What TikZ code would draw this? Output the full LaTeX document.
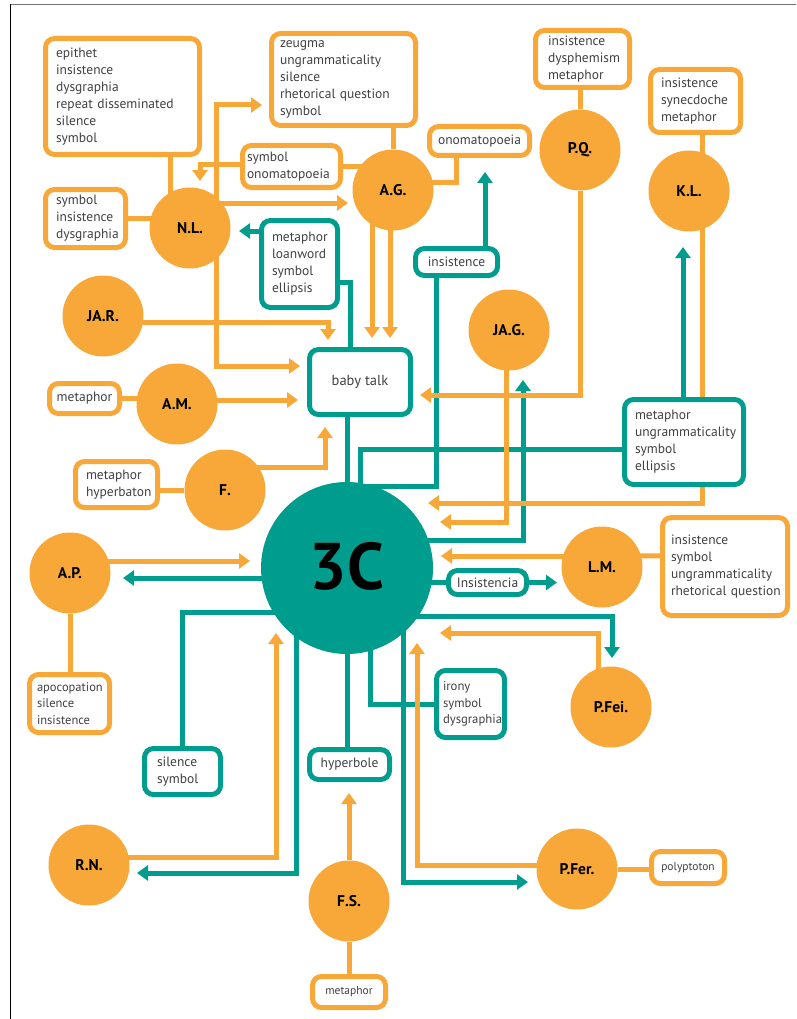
\documentclass[tikz,border=0pt]{standalone}
\usepackage{fontspec}
\setmainfont{PT Sans}
\usetikzlibrary{arrows.meta,calc}
\definecolor{orng}{RGB}{247,168,56}
\definecolor{tealc}{RGB}{0,156,141}
\definecolor{txt}{RGB}{65,64,66}
\pgfdeclarelayer{bg}
\pgfsetlayers{bg,main}
\hyphenpenalty=10000 \exhyphenpenalty=10000
\tikzset{
  person/.style={circle, fill=orng, minimum size=81pt, inner sep=0pt, font=\bfseries\fontsize{15.5}{17}\selectfont, text=black},
  hub/.style={circle, fill=tealc, minimum size=172pt, inner sep=0pt, font=\bfseries\fontsize{66}{70}\selectfont, text=black},
  boxbase/.style={fill=white, line width=5pt, rounded corners=9pt, align=left, text=txt, inner ysep=0pt, font=\fontsize{13.5}{17}\selectfont},
  obox/.style={boxbase, draw=orng},
  tbox/.style={boxbase, draw=tealc},
  single/.style={align=center, inner xsep=0pt},
  oline/.style={draw=orng, line width=5pt},
  tline/.style={draw=tealc, line width=5pt},
  oarr/.style={oline, -{Triangle[width=15pt,length=11pt]}},
  tarr/.style={tline, -{Triangle[width=15pt,length=11pt]}},
}
\begin{document}
\begin{tikzpicture}[x=1pt,y=-1pt]
\useasboundingbox (0,0) rectangle (796,1019);
\draw[black!55, line width=1.5pt] (10,4.5) -- (796,4.5);
\draw[black, line width=1.2pt] (10.5,4) -- (10.5,1019);

% people
\node[person] (NL) at (190,228) {N.L.};
\node[person] (AG) at (393,190) {A.G.};
\node[person] (PQ) at (580,150) {P.Q.};
\node[person] (KL) at (689,191) {K.L.};
\node[person] (JAR) at (103,316) {JA.R.};
\node[person] (AM) at (177,404) {A.M.};
\node[person] (F) at (225,490) {F.};
\node[person] (JAG) at (509,330) {JA.G.};
\node[hub] (C3) at (347,568) {\raisebox{5pt}{3C}};
\node[person] (AP) at (70,573) {A.P.};
\node[person] (LM) at (602,567) {L.M.};
\node[person] (PFei) at (611,707) {P.Fei.};
\node[person] (RN) at (89,865) {R.N.};
\node[person] (FS) at (349,901) {F.S.};
\node[person] (PFer) at (577,869) {P.Fer.};

% orange boxes
\node[obox, minimum width=154, minimum height=116, inner xsep=10.5pt, text width=133pt] (EPI) at (122.5,96.5) {epithet\\insistence\\dysgraphia\\repeat~disseminated\\silence\\symbol};
\node[obox, minimum width=144, minimum height=92, inner xsep=8.5pt, text width=127pt] (ZEU) at (343.5,79.5) {zeugma\\ungrammaticality\\silence\\rhetorical~question\\symbol};
\node[obox, minimum width=98, minimum height=42, inner xsep=4.5pt, text width=89pt] (SYO) at (291.5,166.5) {symbol\\onomatopoeia};
\node[obox, minimum width=80, minimum height=58, inner xsep=10.5pt, text width=59pt] (SYI) at (85.5,218.5) {symbol\\insistence\\dysgraphia};
\node[obox, single, minimum width=100, minimum height=29] (ONO) at (479.5,141) {onomatopoeia};
\node[obox, minimum width=94, minimum height=57, inner xsep=12.5pt, text width=69pt] (PQB) at (582.5,59) {insistence\\dysphemism\\metaphor};
\node[obox, minimum width=90, minimum height=63, inner xsep=10.5pt, text width=69pt] (KLB) at (695.5,101) {insistence\\synecdoche\\metaphor};
\node[obox, single, minimum width=70, minimum height=30] (MAM) at (84.5,398.5) {metaphor};
\node[obox, minimum width=82, minimum height=46, inner xsep=10.5pt, text width=61pt] (MHY) at (116.5,484.5) {metaphor\\hyperbaton};
\node[obox, minimum width=80, minimum height=58, inner xsep=7.5pt, text width=65pt, font=\fontsize{12.5}{16.7}\selectfont] (APO) at (69.5,703.5) {apocopation\\silence\\insistence};
\node[obox, minimum width=125, minimum height=98, inner xsep=8.5pt, text width=108pt] (LMB) at (725,566.5) {insistence\\symbol\\ungrammaticality\\rhetorical~question};
\node[obox, single, minimum width=73, minimum height=32, font=\fontsize{11.5}{13}\selectfont] (POL) at (688,867.5) {polyptoton};
\node[obox, single, minimum width=73, minimum height=31, font=\fontsize{11.5}{13}\selectfont] (MFS) at (349,992) {metaphor};

% teal boxes
\node[tbox, minimum width=76, minimum height=87, inner xsep=10.5pt, text width=55pt] (LOA) at (299.5,264) {metaphor\\loanword\\symbol\\ellipsis};
\node[tbox, single, minimum width=82, minimum height=27] (INS) at (456.5,262) {insistence};
\node[tbox, single, minimum width=101, minimum height=65, font=\fontsize{14.5}{16}\selectfont] (BABY) at (360,382) {baby~talk};
\node[tbox, minimum width=119, minimum height=85, inner xsep=10.5pt, text width=98pt] (MUS) at (684,442) {metaphor\\ungrammaticality\\symbol\\ellipsis};
\node[tbox, single, minimum width=78, minimum height=24] (ISC) at (487.5,582.5) {Insistencia};
\node[tbox, minimum width=68, minimum height=67, inner xsep=6.5pt, text width=55pt, font=\fontsize{12.7}{16.7}\selectfont] (IRO) at (470.5,704) {irony\\symbol\\dysgraphia};
\node[tbox, minimum width=76, minimum height=46, inner xsep=12.5pt, text width=51pt] (SIL) at (182.5,771.5) {silence\\symbol};
\node[tbox, single, minimum width=80, minimum height=30] (HYP) at (349.5,764.5) {hyperbole};

\begin{pgfonlayer}{bg}
% teal connectors
\draw[tarr] ($(LOA)+(0,-33)$) -- ($(NL)+(49,3)$);
\draw[tline] ($(BABY)+(-10,0)$) |- ($(LOA)+(0,18)$);
\draw[tline] (C3) -- (C3 |- BABY);
\draw[tline] ($(C3)+(10,-82)$) -| ($(INS)+(-20,0)$);
\draw[tarr] ($(INS)+(28.5,0)$) -- ($(INS)+(28.5,-90)$);
\draw[tline] ($(C3)+(13,0)$) |- ($(MUS)+(0,7)$);
\draw[tarr] ($(MUS)+(-1,0)$) -- ($(MUS)+(-1,-195)$);
\draw[tarr] ($(C3)+(0,-28)$) -| ($(JAG)+(14,50)$);
\draw[tline] (C3 |- ISC) -- (ISC);
\draw[tarr] (ISC) -- ($(ISC -| LM)+(-45,0)$);
\draw[tarr] ($(C3)+(0,48)$) -| ($(PFei)+(1,-49)$);
\draw[tarr] ($(C3)+(0,10)$) -- ($(AP)+(53,5)$);
\draw[tline] ($(C3)+(0,44)$) -| (SIL);
\draw[tarr] ($(C3)+(-51,0)$) |- ($(RN)+(48,8)$);
\draw[tline] (C3) -- (C3 |- HYP);
\draw[tline] ($(C3)+(23,0)$) |- (IRO);
\draw[tarr] ($(C3)+(56,0)$) |- ($(PFer)+(-49,13)$);
% orange connectors
\draw[oline] ($(NL)+(-20,0)$) -- ++(0,-100);
\draw[oline] (SYI) -- (SYI -| NL);
\draw[oarr] ($(NL)+(26,0)$) |- ($(ZEU)+(-81.5,25.5)$);
\draw[oline] (SYO) -- (SYO -| AG);
\draw[oarr] ($(SYO)+(0,-1.5)$) -| ($(NL)+(10,-47)$);
\draw[oarr] ($(NL)+(0,-25)$) -- ($(AG)+(-45,13)$);
\draw[oarr] ($(NL)+(26,0)$) |- ($(BABY)+(-60,-16)$);
\draw[oarr] ($(JAR)+(0,6)$) -| ($(BABY)+(-32,-42)$);
\draw[oarr] ($(AM)+(0,-4)$) -- ($(BABY)+(-62,18)$);
\draw[oline] (MAM) -- (MAM -| AM);
\draw[oarr] ($(F)+(0,-23)$) -| ($(BABY)+(-35,45)$);
\draw[oline] (F) -- (F -| MHY);
\draw[oarr] ($(AG)+(-21,0)$) -- ($(BABY)+(12,-44)$);
\draw[oarr] ($(AG)+(-3,0)$) -- ($(BABY)+(30,-44)$);
\draw[oline] (AG) -- (AG |- ZEU);
\draw[oline] ($(AG)+(0,-7)$) -| ($(ONO)+(-23,0)$);
\draw[oline] (PQ) -- (PQ |- PQB);
\draw[oarr] (PQ) |- ($(BABY)+(60,13)$);
\draw[oline] ($(KL)+(13,0)$) -- ++(0,-90);
\draw[oarr] ($(KL)+(13,0)$) |- ($(C3)+(81,-65)$);
\draw[oarr] ($(JAG)+(-3,0)$) |- ($(C3)+(93,-46)$);
\draw[oarr] ($(LM)+(0,-11)$) -- ($(C3)+(94,-12)$);
\draw[oline] ($(LMB)+(0,-11)$) -- ($(LM)+(0,-11)$);
\draw[oarr] ($(PFei)+(-13,0)$) |- ($(C3)+(93,65)$);
\draw[oarr] ($(AP)+(0,-12)$) -- ($(C3)+(-97,-7)$);
\draw[oline] (AP) -- (AP |- APO);
\draw[oarr] ($(RN)+(0,-8)$) -| ($(C3)+(-71,65)$);
\draw[oarr] (FS) -- ($(FS)+(0,-108)$);
\draw[oline] (FS) -- (MFS);
\draw[oarr] ($(PFer)+(0,-4)$) -| ($(C3)+(70,75)$);
\draw[oline] (PFer) -- (PFer -| POL);
\end{pgfonlayer}
\end{tikzpicture}
\end{document}
